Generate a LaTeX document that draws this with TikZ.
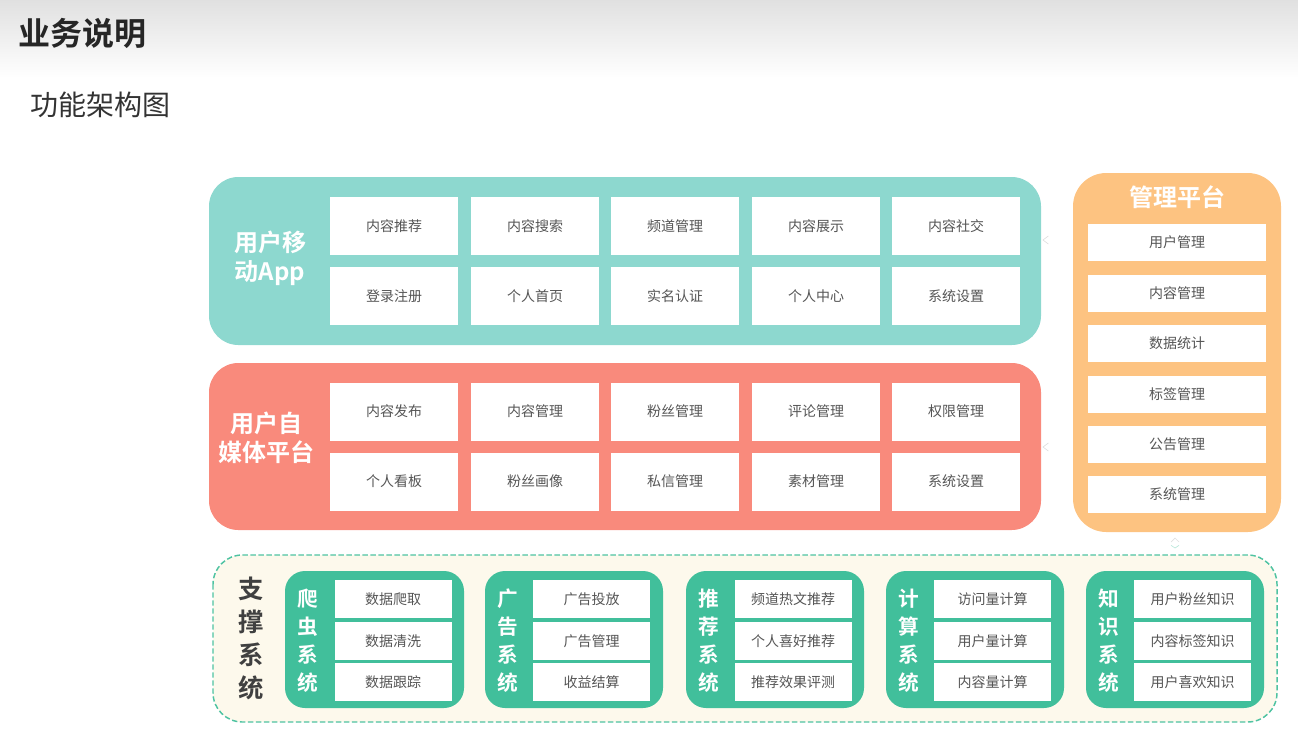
\documentclass[tikz,border=0pt]{standalone}
\usepackage{fontspec}
\setmainfont{Noto Sans CJK SC}[BoldFont={Noto Sans CJK SC Bold}]
\definecolor{teal1}{HTML}{8DD8CF}
\definecolor{red1}{HTML}{F98A7C}
\definecolor{orange1}{HTML}{FDC381}
\definecolor{green1}{HTML}{41BF9B}
\definecolor{cream}{HTML}{FDF9EC}
\definecolor{dash1}{HTML}{4FC3A2}
\definecolor{celltext}{HTML}{555555}
\begin{document}
\begin{tikzpicture}[x=0.75pt,y=-0.75pt,
  cell/.style={fill=white, inner sep=0pt, minimum width=96pt, minimum height=43.5pt, text=celltext, font=\fontsize{10.5pt}{12pt}\selectfont},
  mcell/.style={fill=white, inner sep=0pt, minimum width=133.5pt, minimum height=27.75pt, text=celltext, font=\fontsize{10.5pt}{12pt}\selectfont},
  scell/.style={fill=white, inner sep=0pt, minimum width=87.75pt, minimum height=28.5pt, text=celltext, font=\fontsize{10.5pt}{12pt}\selectfont},
  biglabel/.style={text=white, align=center, font=\fontsize{18pt}{22pt}\selectfont\bfseries},
  sublabel/.style={text=white, align=center, font=\fontsize{15.5pt}{21pt}\selectfont\bfseries},
  chev/.style={draw=gray!25, line width=0.5pt}
]
\useasboundingbox (0,0) rectangle (1298,743);
\shade[top color=gray!24, bottom color=white] (0,0) rectangle (1298,78);
\node[anchor=west, font=\fontsize{24pt}{28pt}\selectfont\bfseries, text=black!85] (title) at (14,33) {业务说明};
\node[anchor=west, font=\fontsize{21pt}{25pt}\selectfont, text=black!80] (subtitle) at (26,105) {功能架构图};

% user mobile app
\fill[teal1, rounded corners=22pt] (209,177) rectangle (1041,345);
\node[biglabel] (applabel) at (270,258) {用户移\\动App};
\node[cell] (a1) at (394,226) {内容推荐};
\node[cell] (a2) at (535,226) {内容搜索};
\node[cell] (a3) at (675,226) {频道管理};
\node[cell] (a4) at (816,226) {内容展示};
\node[cell] (a5) at (956,226) {内容社交};
\node[cell] (a6) at (394,296) {登录注册};
\node[cell] (a7) at (535,296) {个人首页};
\node[cell] (a8) at (675,296) {实名认证};
\node[cell] (a9) at (816,296) {个人中心};
\node[cell] (a10) at (956,296) {系统设置};

% self media
\fill[red1, rounded corners=22pt] (209,363) rectangle (1041,530);
\node[biglabel] (medialabel) at (266,438) {用户自\\媒体平台};
\node[cell] (b1) at (394,411.5) {内容发布};
\node[cell] (b2) at (535,411.5) {内容管理};
\node[cell] (b3) at (675,411.5) {粉丝管理};
\node[cell] (b4) at (816,411.5) {评论管理};
\node[cell] (b5) at (956,411.5) {权限管理};
\node[cell] (b6) at (394,481.5) {个人看板};
\node[cell] (b7) at (535,481.5) {粉丝画像};
\node[cell] (b8) at (675,481.5) {私信管理};
\node[cell] (b9) at (816,481.5) {素材管理};
\node[cell] (b10) at (956,481.5) {系统设置};

% management platform
\fill[orange1, rounded corners=25pt] (1073,173) rectangle (1281,532);
\node[biglabel] (mlabel) at (1177,197) {管理平台};
\node[mcell] (m1) at (1177,242.5) {用户管理};
\node[mcell] (m2) at (1177,293.5) {内容管理};
\node[mcell] (m3) at (1177,343.5) {数据统计};
\node[mcell] (m4) at (1177,394.5) {标签管理};
\node[mcell] (m5) at (1177,444.5) {公告管理};
\node[mcell] (m6) at (1177,494.5) {系统管理};

% faint chevrons
\coordinate (c1) at (1043,240);
\coordinate (c2) at (1043,447);
\coordinate (c3) at (1175,538);
\coordinate (c4) at (1175,548);
\draw[chev] ([xshift=4pt,yshift=3pt]c1) -- (c1) -- ([xshift=4pt,yshift=-3pt]c1);
\draw[chev] ([xshift=4pt,yshift=3pt]c2) -- (c2) -- ([xshift=4pt,yshift=-3pt]c2);
\draw[chev] ([xshift=-3pt,yshift=-3pt]c3) -- (c3) -- ([xshift=3pt,yshift=-3pt]c3);
\draw[chev, draw=dash1!40] ([xshift=-3pt,yshift=2pt]c4) -- (c4) -- ([xshift=3pt,yshift=2pt]c4);

% support systems
\draw[dash1, fill=cream, dash pattern=on 4pt off 2pt, line width=1.1pt, rounded corners=22pt] (213,555) rectangle (1277,722);
\node[text=black!75, align=center, font=\fontsize{19pt}{24.75pt}\selectfont\bfseries] (slabel) at (251,638) {支\\撑\\系\\统};

\fill[green1, rounded corners=15pt] (285,571) rectangle (464,708);
\fill[green1, rounded corners=15pt] (485,571) rectangle (663,708);
\fill[green1, rounded corners=15pt] (686,571) rectangle (864,708);
\fill[green1, rounded corners=15pt] (886,571) rectangle (1064,708);
\fill[green1, rounded corners=15pt] (1086,571) rectangle (1264,708);

\node[sublabel] (s1) at (308,641) {爬\\虫\\系\\统};
\node[sublabel] (s2) at (508,641) {广\\告\\系\\统};
\node[sublabel] (s3) at (709,641) {推\\荐\\系\\统};
\node[sublabel] (s4) at (909,641) {计\\算\\系\\统};
\node[sublabel] (s5) at (1109,641) {知\\识\\系\\统};

\node[scell] (p1) at (393,599) {数据爬取};
\node[scell] (p2) at (393,641) {数据清洗};
\node[scell] (p3) at (393,682) {数据跟踪};
\node[scell] (q1) at (591.5,599) {广告投放};
\node[scell] (q2) at (591.5,641) {广告管理};
\node[scell] (q3) at (591.5,682) {收益结算};
\node[scell] (r1) at (793,599) {频道热文推荐};
\node[scell] (r2) at (793,641) {个人喜好推荐};
\node[scell] (r3) at (793,682) {推荐效果评测};
\node[scell] (t1) at (992.5,599) {访问量计算};
\node[scell] (t2) at (992.5,641) {用户量计算};
\node[scell] (t3) at (992.5,682) {内容量计算};
\node[scell] (k1) at (1192.5,599) {用户粉丝知识};
\node[scell] (k2) at (1192.5,641) {内容标签知识};
\node[scell] (k3) at (1192.5,682) {用户喜欢知识};
\end{tikzpicture}
\end{document}
